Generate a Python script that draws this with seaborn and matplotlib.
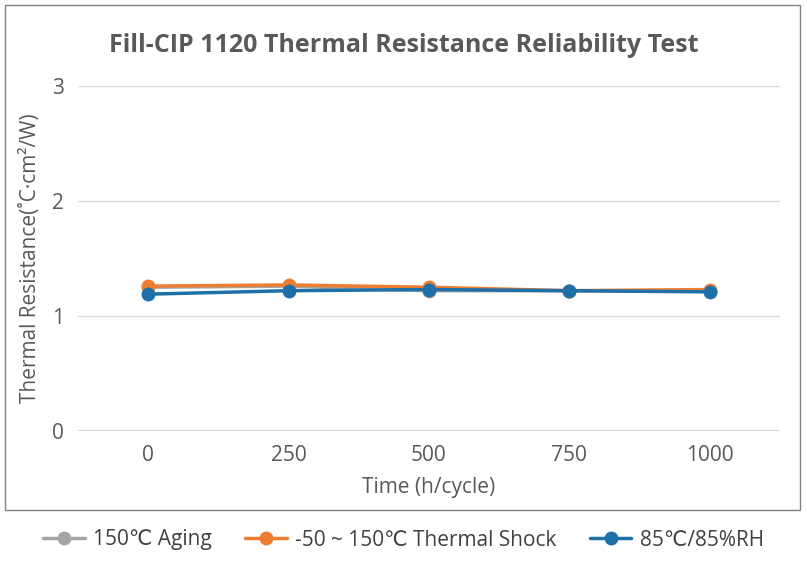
import numpy as np
import pandas as pd
import matplotlib
matplotlib.use("Agg")
import matplotlib.pyplot as plt
from matplotlib.patches import Rectangle
import seaborn as sns

times = ["0", "250", "500", "750", "1000"]
aging = [1.25, 1.26, 1.22, 1.22, 1.22]
shock = [1.26, 1.27, 1.25, 1.22, 1.23]
humid = [1.19, 1.22, 1.23, 1.22, 1.21]

series = {
    "150℃ Aging": (aging, "#a5a5a5"),
    "-50 ~ 150℃ Thermal Shock": (shock, "#ed7d31"),
    "85℃/85%RH": (humid, "#1f6fa8"),
}

sns.set_style("white")
plt.rcParams['font.family'] = ['Open Sans', 'DejaVu Sans']

fig = plt.figure(figsize=(8.07, 5.67), dpi=100)
ax = fig.add_axes([78/807, 1 - 431/567, 702/807, 345/567])

x = np.arange(len(times))
for name, (vals, col) in series.items():
    sns.lineplot(x=x, y=vals, ax=ax, color=col, lw=2.5, marker="o",
                 markersize=10, markeredgewidth=0, label=name)

ax.set_xlim(-0.5, 4.5)
ax.set_ylim(0, 3)
ax.set_yticks([0, 1, 2, 3])
ax.set_xticks(x)
ax.set_xticklabels(times)
for y in [1, 2, 3]:
    ax.axhline(y, color="#d9d9d9", lw=1, zorder=0)
ax.axhline(0, color="#d9d9d9", lw=1.5, zorder=0)
for s in ax.spines.values():
    s.set_visible(False)
ax.tick_params(length=0, labelsize=15, colors="#595959", pad=10)
ax.set_xlabel("Time (h/cycle)", fontsize=15, color="#595959", labelpad=8)
ax.set_ylabel("Thermal Resistance(˚C·cm²/W)", fontsize=15, color="#595959", labelpad=8)
fig.text(0.5, 1 - 45/567, "Fill-CIP 1120 Thermal Resistance Reliability Test",
         ha="center", va="center", fontsize=18, fontweight="bold", color="#595959")

fig.patches.append(Rectangle((5/807, 1 - 510/567), 795/807, 505/567,
                             transform=fig.transFigure, fill=False,
                             edgecolor="#808080", lw=1))

h, l = ax.get_legend_handles_labels()
ax.legend_.remove()
fig.legend(h, l, loc="center", bbox_to_anchor=(0.5, 1 - 540/567), ncol=3,
           frameon=False, fontsize=15, handlelength=2.0, handletextpad=0.4,
           columnspacing=1.6, labelcolor="#404040", borderaxespad=0)

fig.savefig("out.png", dpi=100)
